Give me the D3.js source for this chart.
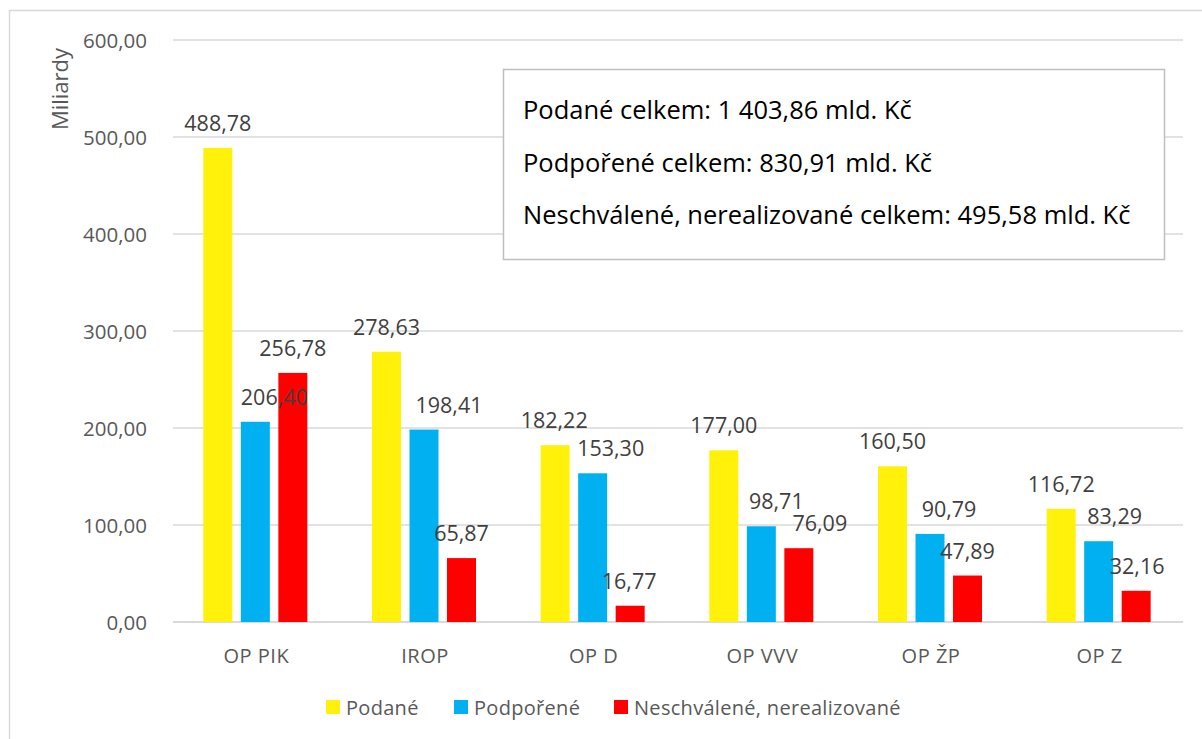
<!DOCTYPE html>
<html>
<head>
<meta charset="utf-8">
<script src="https://cdn.jsdelivr.net/npm/d3@7"></script>
<style>
  body { margin: 0; background: #fff; }
  svg text { font-family: "Open Sans", sans-serif; }
</style>
</head>
<body>
<div id="chart"></div>
<script>
var width = 1202,
    height = 739;

// data
var categories = ["OP PIK", "IROP", "OP D", "OP VVV", "OP ŽP", "OP Z"];
var seriesNames = ["Podané", "Podpořené", "Neschválené, nerealizované"];
var podane = [488.78, 278.63, 182.22, 177.00, 160.50, 116.72];
var podporene = [206.40, 198.41, 153.30, 98.71, 90.79, 83.29];
var neschvalene = [256.78, 65.87, 16.77, 76.09, 47.89, 32.16];
var yTicks = [0, 100, 200, 300, 400, 500, 600];
var summaryLines = [
    "Podané celkem: 1 403,86 mld. Kč",
    "Podpořené celkem: 830,91 mld. Kč",
    "Neschválené, nerealizované celkem: 495,58 mld. Kč"
];

// labels were dragged by hand in the original, sideways nudge in px
var labelNudge = [
    [0, 0, -1, 0, 0, 0],
    [19, 25, 18, 15, 19, 16],
    [0, 0, -1, 21, 0, 1]
];

var seriesValues = [podane, podporene, neschvalene];
var colors = ["#FFF10A", "#00B0F0", "#FF0000"];

var cz = d3.formatLocale({decimal: ",", thousands: " ", grouping: [3], currency: ["", " Kč"]});
var fmt = cz.format(",.2f");

var plot = {left: 173, right: 1183, top: 40, bottom: 622};

var svg = d3.select("#chart").append("svg")
    .attr("width", width)
    .attr("height", height);

// outer frame
svg.append("rect")
    .attr("x", 9.5).attr("y", 10.5)
    .attr("width", 1300).attr("height", 800)
    .attr("fill", "#fff")
    .attr("stroke", "#d9d9d9")
    .attr("stroke-width", 1.5);

var x = d3.scaleBand()
    .domain(categories)
    .range([plot.left, plot.right + 2]);

var xInner = d3.scaleBand()
    .domain(d3.range(3))
    .range([-54, 50])
    .paddingInner(0.227);

var y = d3.scaleLinear()
    .domain([0, 600])
    .range([plot.bottom, plot.top]);

// gridlines
svg.append("g")
    .selectAll("line")
    .data(yTicks)
    .enter().append("line")
    .attr("x1", plot.left)
    .attr("x2", plot.right)
    .attr("y1", function(d) { return y(d); })
    .attr("y2", function(d) { return y(d); })
    .attr("stroke", "#d9d9d9")
    .attr("stroke-width", function(d) { return d === 0 ? 2 : 1.5; });

// y tick labels
svg.append("g")
    .selectAll("text")
    .data(yTicks)
    .enter().append("text")
    .attr("x", 147)
    .attr("y", function(d) { return y(d); })
    .attr("dy", "0.38em")
    .attr("text-anchor", "end")
    .attr("fill", "#595959")
    .style("font-size", "20.5px")
    .text(function(d) { return fmt(d); });

// y axis title
svg.append("text")
    .attr("transform", "translate(68,89) rotate(-90)")
    .attr("text-anchor", "middle")
    .attr("fill", "#595959")
    .style("font-size", "22px")
    .text("Miliardy");

// bars
var rows = [];
categories.forEach(function(c, i) {
    seriesValues.forEach(function(vals, s) {
        rows.push({cat: c, i: i, s: s, v: vals[i]});
    });
});

var barX = function(d) { return x(d.cat) + x.bandwidth() / 2 + xInner(d.s); };

svg.append("g")
    .selectAll("rect")
    .data(rows)
    .enter().append("rect")
    .attr("x", barX)
    .attr("y", function(d) { return y(d.v); })
    .attr("width", xInner.bandwidth())
    .attr("height", function(d) { return y(0) - y(d.v); })
    .attr("fill", function(d) { return colors[d.s]; });

// value labels
svg.append("g")
    .selectAll("text")
    .data(rows)
    .enter().append("text")
    .attr("x", function(d) { return barX(d) + xInner.bandwidth() / 2 + labelNudge[d.s][d.i]; })
    .attr("y", function(d) { return y(d.v) - 17; })
    .attr("text-anchor", "middle")
    .attr("fill", "#404040")
    .style("font-size", "21.5px")
    .text(function(d) { return fmt(d.v); });

// category labels
svg.append("g")
    .selectAll("text")
    .data(categories)
    .enter().append("text")
    .attr("x", function(d) { return x(d) + x.bandwidth() / 2 - 1; })
    .attr("y", 663)
    .attr("text-anchor", "middle")
    .attr("fill", "#595959")
    .style("font-size", "20px")
    .style("letter-spacing", "0.5px")
    .text(function(d) { return d; });

// legend
var legendX = [326, 454, 614];
var legend = svg.append("g")
    .selectAll("g")
    .data(seriesNames)
    .enter().append("g")
    .attr("transform", function(d, i) { return "translate(" + legendX[i] + ",700)"; });

legend.append("rect")
    .attr("width", 14).attr("height", 14)
    .attr("fill", function(d, i) { return colors[i]; });

legend.append("text")
    .attr("x", 20)
    .attr("y", 14.5)
    .attr("fill", "#595959")
    .style("font-size", "20px")
    .style("letter-spacing", "0.3px")
    .text(function(d) { return d; });

// summary box
svg.append("rect")
    .attr("x", 503.5).attr("y", 69.5)
    .attr("width", 661).attr("height", 190)
    .attr("fill", "#fff")
    .attr("stroke", "#bfbfbf")
    .attr("stroke-width", 1.5);

svg.append("g")
    .selectAll("text")
    .data(summaryLines)
    .enter().append("text")
    .attr("x", 523)
    .attr("y", function(d, i) { return 119 + i * 52.5; })
    .attr("fill", "#000")
    .style("font-size", "25.5px")
    .text(function(d) { return d; });
</script>
</body>
</html>
